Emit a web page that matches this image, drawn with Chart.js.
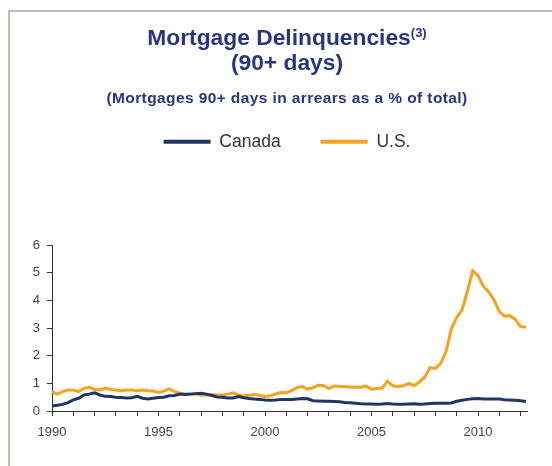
<!DOCTYPE html>
<html>
<head>
<meta charset="utf-8">
<script src="https://cdn.jsdelivr.net/npm/chart.js@4.4.1/dist/chart.umd.min.js"></script>
<style>
    html, body { margin: 0; padding: 0; background: #fff; overflow: hidden; }
    #wrap { position: relative; width: 552px; height: 466px; font-family: "Liberation Sans", Arial, sans-serif; }
    .frame { position: absolute; left: 8px; top: 10px; right: 0; bottom: 0; border-top: 2px solid #c3bdb1; border-left: 2px solid #c3bdb1; }
    #chart { position: absolute; left: 0; top: 0; }
    .head { position: absolute; left: 20px; width: 534px; text-align: center; color: #2a3581; font-weight: bold; white-space: nowrap; }
    .title { top: 25px; font-size: 22.8px; line-height: 25px; }
    .title sup { font-size: 13px; line-height: 0; vertical-align: 8px; }
    .subtitle { top: 88.9px; font-size: 15.5px; line-height: 18px; letter-spacing: 0.4px; }
</style>
</head>
<body>
<div id="wrap">
    <div class="frame"></div>
    <canvas id="chart" width="552" height="466"></canvas>
    <div class="head title">Mortgage Delinquencies<sup>(3)</sup><br>(90+ days)</div>
    <div class="head subtitle">(Mortgages 90+ days in arrears as a % of total)</div>
</div>
<script>
// quarterly series, 1990 Q1 to 2012 Q2
const firstYear = 1990;
const seriesNames = ['Canada', 'U.S.'];
const canadaRate = [
    0.18, 0.21, 0.24, 0.30,  0.40, 0.46, 0.58, 0.61,  0.66, 0.58, 0.53, 0.52,
    0.50, 0.49, 0.47, 0.48,  0.53, 0.46, 0.43, 0.46,  0.49, 0.50, 0.55, 0.56,
    0.61, 0.60, 0.61, 0.62,  0.64, 0.61, 0.56, 0.51,  0.50, 0.47, 0.47, 0.52,
    0.48, 0.45, 0.43, 0.42,  0.40, 0.39, 0.40, 0.42,  0.42, 0.42, 0.43, 0.45,
    0.44, 0.37, 0.36, 0.35,  0.35, 0.34, 0.33, 0.31,  0.30, 0.28, 0.26, 0.25,
    0.25, 0.24, 0.25, 0.27,  0.25, 0.24, 0.24, 0.25,  0.26, 0.24, 0.25, 0.27,
    0.28, 0.28, 0.28, 0.29,  0.35, 0.39, 0.42, 0.44,  0.45, 0.43, 0.43, 0.43,
    0.43, 0.41, 0.40, 0.39,  0.37, 0.34
];
const usRate = [
    0.70, 0.61, 0.70, 0.76,  0.76, 0.70, 0.82, 0.86,  0.78, 0.76, 0.83, 0.78,
    0.76, 0.73, 0.76, 0.76,  0.73, 0.76, 0.73, 0.72,  0.67, 0.72, 0.80, 0.70,
    0.64, 0.61, 0.61, 0.64,  0.57, 0.58, 0.60, 0.58,  0.58, 0.61, 0.66, 0.58,
    0.55, 0.57, 0.60, 0.57,  0.52, 0.55, 0.62, 0.67,  0.66, 0.74, 0.84, 0.88,
    0.79, 0.84, 0.93, 0.92,  0.81, 0.90, 0.89, 0.88,  0.87, 0.86, 0.86, 0.90,
    0.79, 0.81, 0.83, 1.07,  0.91, 0.89, 0.91, 1.00,  0.92, 1.05, 1.22, 1.57,
    1.54, 1.72, 2.15, 2.97,  3.38, 3.66, 4.32, 5.07,  4.89, 4.51, 4.31, 4.01,
    3.59, 3.43, 3.44, 3.31,  3.05, 3.03
];
const yTicks = [0, 1, 2, 3, 4, 5, 6];
const yearLabels = [1990, 1995, 2000, 2005, 2010];

const toPoints = values => values.map((v, i) => ({ x: firstYear + i / 4, y: v }));

// legend sits high, plot starts well below it; nudge legend a bit right
const legendGap = {
    id: 'legendGap',
    beforeInit(chart) {
        const fit = chart.legend.fit;
        chart.legend.fit = function () {
            fit.call(this);
            this.height = 152;
        };
    },
    afterLayout(chart) {
        chart.legend.left += 7.5;
        chart.legend.right += 7.5;
    }
};

Chart.defaults.font.family = '"Liberation Sans", Arial, sans-serif';

new Chart(document.getElementById('chart'), {
    type: 'line',
    data: {
        datasets: [
            {
                label: seriesNames[0],
                data: toPoints(canadaRate),
                borderColor: '#1f3566',
                backgroundColor: '#1f3566',
                borderWidth: 3,
                pointRadius: 0,
                tension: 0
            },
            {
                label: seriesNames[1],
                data: toPoints(usRate),
                borderColor: '#f7a11e',
                backgroundColor: '#f7a11e',
                borderWidth: 3,
                pointRadius: 0,
                tension: 0
            }
        ]
    },
    options: {
        responsive: false,
        animation: false,
        layout: { padding: { top: 93, left: 32, right: 25, bottom: 0 } },
        plugins: {
            title: { display: false },
            tooltip: { enabled: false },
            legend: {
                position: 'top',
                labels: {
                    boxWidth: 47,
                    boxHeight: 4,
                    padding: 40,
                    color: '#333',
                    font: { size: 17.5 },
                    generateLabels(chart) {
                        const items = Chart.defaults.plugins.legend.labels.generateLabels(chart);
                        items.forEach(it => { it.lineWidth = 0; });
                        return items;
                    }
                }
            }
        },
        scales: {
            x: {
                type: 'linear',
                min: 1990,
                max: 2012.3,
                afterFit(scale) { scale.height = 55; },
                border: { display: true, color: '#333', width: 1 },
                grid: { drawOnChartArea: false, tickLength: 5, color: '#333' },
                ticks: {
                    stepSize: 1,
                    autoSkip: false,
                    includeBounds: false,
                    maxRotation: 0,
                    padding: 9,
                    color: '#444',
                    font: { size: 13 },
                    callback: v => yearLabels.includes(Math.round(v)) ? String(Math.round(v)) : ''
                }
            },
            y: {
                min: 0,
                max: 6,
                afterFit(scale) { scale.width = 20; },
                afterBuildTicks(scale) { scale.ticks = yTicks.map(v => ({ value: v })); },
                border: { display: true, color: '#333', width: 1 },
                grid: { drawOnChartArea: false, tickLength: 5, color: '#333' },
                ticks: {
                    padding: 7,
                    color: '#444',
                    font: { size: 13 }
                }
            }
        }
    },
    plugins: [legendGap]
});
</script>
</body>
</html>
